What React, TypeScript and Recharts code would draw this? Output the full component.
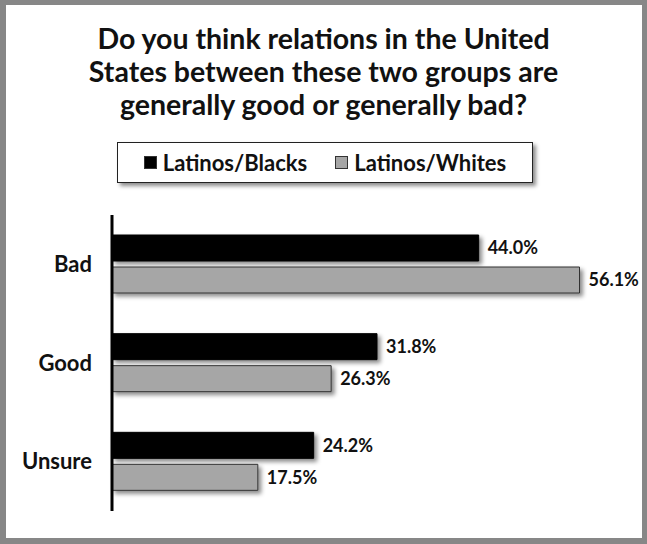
import { BarChart, Bar, XAxis, YAxis, LabelList } from "recharts";

const categories = ["Bad", "Good", "Unsure"];
const latinosBlacks = [44.0, 31.8, 24.2];
const latinosWhites = [56.1, 26.3, 17.5];
const seriesNames = ["Latinos/Blacks", "Latinos/Whites"];
const titleLines = [
  "Do you think relations in the United",
  "States between these two groups are",
  "generally good or generally bad?",
];

const data = categories.map((c, i) => ({
  name: c,
  blacks: latinosBlacks[i],
  whites: latinosWhites[i],
}));

const FONT = "Lato, 'Open Sans', sans-serif";
const COLORS = ["#000000", "#a6a6a6"];

export default function App() {
  return (
    <div
      style={{
        position: "absolute",
        left: 0,
        top: 0,
        width: 647,
        height: 544,
        background: "#878787",
        fontFamily: FONT,
      }}
    >
      <div
        style={{
          position: "absolute",
          left: 6,
          top: 5,
          width: 636,
          height: 533,
          background: "#fff",
        }}
      />
      <div
        style={{
          position: "absolute",
          left: 0,
          top: 22,
          width: 647,
          textAlign: "center",
          fontWeight: 700,
          fontSize: 28.5,
          lineHeight: "33px",
          color: "#111",
        }}
      >
        {titleLines.map((t) => (
          <div key={t}>{t}</div>
        ))}
      </div>
      <div
        style={{
          position: "absolute",
          left: 117,
          top: 142,
          width: 414,
          height: 39,
          border: "1px solid #222",
          background: "#fff",
          boxShadow: "3px 3px 4px rgba(0,0,0,0.45)",
          display: "flex",
          alignItems: "center",
          justifyContent: "center",
          gap: 28,
          fontWeight: 700,
          fontSize: 22,
          color: "#111",
        }}
      >
        {seriesNames.map((s, i) => (
          <div key={s} style={{ display: "flex", alignItems: "center" }}>
            <span
              style={{
                display: "inline-block",
                width: 11,
                height: 11,
                background: COLORS[i],
                border: "1px solid #333",
                marginRight: 6,
              }}
            />
            {s}
          </div>
        ))}
      </div>
      <div style={{ position: "absolute", left: 0, top: 0 }}>
        <BarChart
          width={647}
          height={544}
          data={data}
          layout="vertical"
          margin={{ top: 215, right: 35, bottom: 33, left: 12 }}
          barSize={26}
          barGap={6}
        >
          <defs>
            <filter id="shadow" x="-10%" y="-30%" width="130%" height="180%">
              <feDropShadow dx="3" dy="3" stdDeviation="2" floodColor="#000" floodOpacity="0.45" />
            </filter>
          </defs>
          <XAxis type="number" domain={[0, 60]} hide />
          <YAxis
            type="category"
            dataKey="name"
            width={100}
            axisLine={{ stroke: "#000", strokeWidth: 3 }}
            tickLine={false}
            tickSize={0}
            tickMargin={20}
            tick={{ fill: "#111", fontSize: 22, fontWeight: 700, fontFamily: FONT }}
          />
          <Bar dataKey="blacks" fill={COLORS[0]} stroke="#000" strokeWidth={1} filter="url(#shadow)" isAnimationActive={false}>
            <LabelList
              dataKey="blacks"
              position="right"
              offset={9}
              formatter={(v: any) => `${Number(v).toFixed(1)}%`}
              style={{ fill: "#111", fontSize: 18, fontWeight: 700, fontFamily: FONT }}
            />
          </Bar>
          <Bar dataKey="whites" fill={COLORS[1]} stroke="#333" strokeWidth={1} filter="url(#shadow)" isAnimationActive={false}>
            <LabelList
              dataKey="whites"
              position="right"
              offset={9}
              formatter={(v: any) => `${Number(v).toFixed(1)}%`}
              style={{ fill: "#111", fontSize: 18, fontWeight: 700, fontFamily: FONT }}
            />
          </Bar>
        </BarChart>
      </div>
    </div>
  );
}
